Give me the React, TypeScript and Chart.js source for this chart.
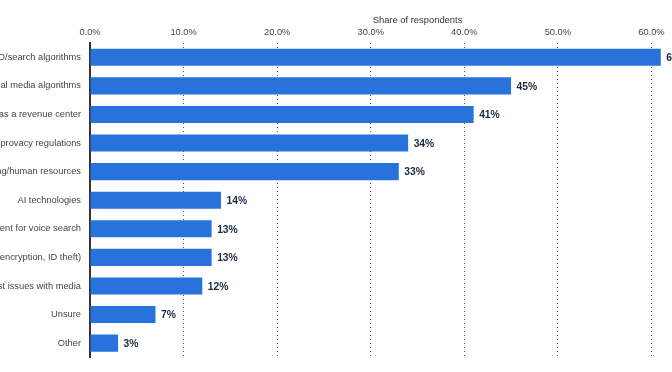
import React, { useEffect, useRef } from "react";
import { Chart, registerables } from "chart.js";

Chart.register(...registerables);

const categories: string[] = [
  "Changes to SEO/search algorithms",
  "Changes to social media algorithms",
  "Proving value as a revenue center",
  "Changes to data/provacy regulations",
  "Staffing/human resources",
  "AI technologies",
  "Optimizing content for voice search",
  "Security (encryption, ID theft)",
  "Trust issues with media",
  "Unsure",
  "Other",
];

const shareValues: number[] = [61, 45, 41, 34, 33, 14, 13, 13, 12, 7, 3];

const xTickValues: number[] = [0, 10, 20, 30, 40, 50, 60, 70];
const axisTitle = "Share of respondents";

const FONT = "'Liberation Sans', Arial, Helvetica, sans-serif";

const valueLabelPlugin = {
  id: "valueLabels",
  afterDatasetsDraw(chart: any) {
    const ctx = chart.ctx;
    const meta = chart.getDatasetMeta(0);
    ctx.save();
    ctx.font = `bold 10.3px ${FONT}`;
    ctx.fillStyle = "#1b2a3f";
    ctx.textAlign = "left";
    ctx.textBaseline = "middle";
    meta.data.forEach((bar: any, i: number) => {
      ctx.fillText(`${shareValues[i]}%`, bar.x + 5.5, bar.y + 1);
    });
    ctx.restore();
  },
};

export default function App() {
  const canvasRef = useRef<HTMLCanvasElement | null>(null);

  useEffect(() => {
    const canvas = canvasRef.current;
    if (!canvas) return;
    const chart = new Chart(canvas, {
      type: "bar",
      data: {
        labels: categories,
        datasets: [
          {
            data: shareValues,
            backgroundColor: "#2873db",
            borderWidth: 0,
            categoryPercentage: 1,
            barPercentage: 0.6,
          },
        ],
      },
      options: {
        indexAxis: "y",
        animation: false,
        responsive: false,
        maintainAspectRatio: false,
        layout: { padding: { left: 0, right: 5, top: 0, bottom: 12 } },
        plugins: {
          legend: { display: false },
          tooltip: { enabled: false },
        },
        scales: {
          x: {
            position: "top",
            min: 0,
            max: 70,
            afterBuildTicks(scale: any) {
              scale.ticks = xTickValues.map((v) => ({ value: v }));
            },
            afterFit(scale: any) {
              scale.height = 43;
              scale.paddingLeft = 0;
              scale.paddingRight = 0;
            },
            title: {
              display: true,
              text: axisTitle,
              color: "#333333",
              font: { family: FONT, size: 9.4 },
              padding: { top: 15, bottom: 0 },
            },
            ticks: {
              color: "#444444",
              font: { family: FONT, size: 9.3 },
              padding: 5,
              callback: (v: any) => `${Number(v).toFixed(1)}%`,
            },
            grid: {
              display: true,
              drawTicks: false,
              color: (ctx: any) => (ctx.tick && ctx.tick.value === 0 ? "rgba(0,0,0,0)" : "#555555"),
              lineWidth: 1,
            },
            border: { display: false, dash: [1, 3] },
          },
          y: {
            afterFit(scale: any) {
              scale.width = 300;
            },
            ticks: {
              color: "#444444",
              font: { family: FONT, size: 9.3 },
              padding: 9,
            },
            grid: { display: false, drawTicks: false },
            border: { display: true, color: "#333333", width: 2 },
          },
        },
      },
      plugins: [valueLabelPlugin],
    });
    return () => chart.destroy();
  }, []);

  return (
    <div
      style={{
        position: "fixed",
        left: 0,
        top: 0,
        width: 672,
        height: 372,
        overflow: "hidden",
        background: "#ffffff",
      }}
    >
      <canvas
        ref={canvasRef}
        width={960}
        height={372}
        style={{ position: "absolute", left: -210, top: 0, width: 960, height: 372 }}
      />
    </div>
  );
}
